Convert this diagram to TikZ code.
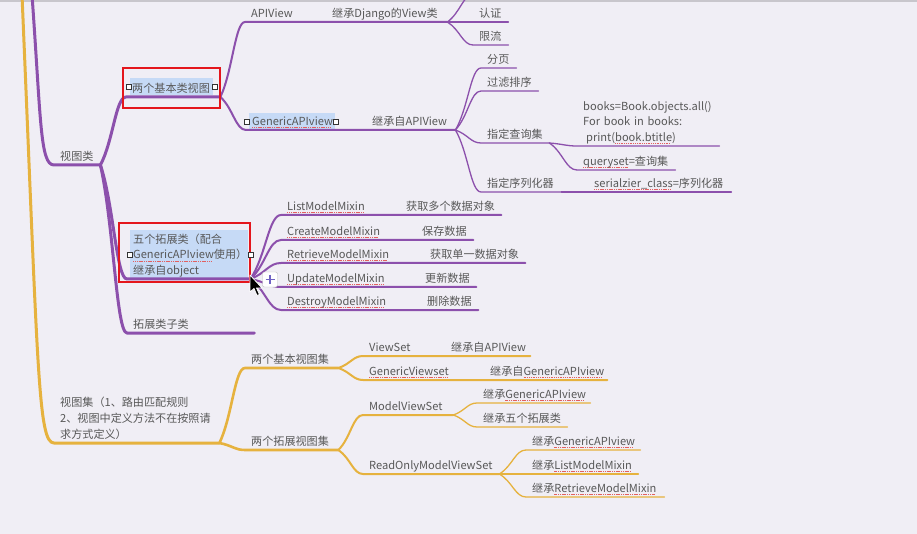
\documentclass[tikz,border=0pt]{standalone}
\usepackage{fontspec}
\setmainfont{Noto Sans CJK SC}
\usetikzlibrary{calc}

\definecolor{bg}{RGB}{240,238,245}
\definecolor{topbar}{RGB}{200,198,204}
\definecolor{purp}{RGB}{140,80,172}
\definecolor{gold}{RGB}{230,178,62}
\definecolor{txt}{RGB}{88,88,88}
\definecolor{hilite}{RGB}{198,218,246}
\definecolor{splred}{RGB}{226,96,96}
\definecolor{frame}{RGB}{228,22,28}
\definecolor{plusc}{RGB}{112,100,196}

\newsavebox\splbox
\newcommand\spl[1]{\sbox\splbox{#1}\leavevmode\rlap{\color{splred}\leaders\hbox{\rule[-2.4pt]{1.1pt}{0.6pt}\kern0.7pt}\hskip\wd\splbox}\usebox\splbox}

\tikzset{
  topic/.style={anchor=south west, inner xsep=6pt, inner ysep=2.5pt, text depth=2pt,
    align=left, text=txt, font=\fontsize{11.1pt}{15.5pt}\selectfont},
  branch/.style={to path={let \p1=(\tikztostart), \p2=(\tikztotarget) in
    .. controls ({\x1+0.5*(\x2-\x1)},{\y1+0.35*(\y2-\y1)})
    and ({\x1+0.6*(\x2-\x1)},\y2) .. (\tikztotarget)}},
  lv1/.style={line width=3pt},
  lv2/.style={line width=2.6pt},
  lv3/.style={line width=2pt},
  lv4/.style={line width=1.3pt},
  grip/.style={draw=black!80, fill=white, inner sep=0pt, minimum size=5pt, line width=0.7pt},
  plusbox/.style={draw=black!25, fill=white, rounded corners=2pt, minimum size=15pt, inner sep=0pt},
}

\begin{document}
\begin{tikzpicture}[x=1pt, y=-1pt]
  \useasboundingbox (0,0) rectangle (917,534);
  \clip (0,0) rectangle (917,534);
  \fill[bg] (0,0) rectangle (917,534);
  \fill[topbar] (0,0) rectangle (917,2.5);

  \fill[hilite] (130,78) rectangle (213,95);
  \fill[hilite] (249,113) rectangle (335,130);
  \fill[hilite] (130,230) rectangle (248,279);

  \coordinate (proot) at (32,-5);
  \coordinate (yroot) at (22,-5);
  \coordinate (hidden) at (474,-6);

  \node[topic, text width=34pt] (shitu) at (54,165) {视图类};
  \node[topic, text width=82pt] (jiben) at (126,97) {两个基本类视图};
  \node[topic, text width=43pt] (apiv) at (245,22) {APIView};
  \node[topic, text width=109pt] (djv) at (326,22) {继承Django的View类};
  \node[topic, text width=23pt] (renz) at (473,22) {认证};
  \node[topic, text width=23pt] (xianl) at (473,45) {限流};
  \node[topic, text width=82pt] (gapi) at (246,130) {\spl{GenericAPIview}};
  \node[topic, text width=77pt] (jcapi) at (366,130) {继承自APIView};
  \node[topic, text width=23pt] (fenye) at (481,68) {分页};
  \node[topic, text width=45pt] (guolv) at (481,91) {过滤排序};
  \node[topic, text width=56pt] (chaxun) at (481,143) {指定查询集};
  \node[topic, text width=68pt] (xulie) at (481,192) {指定序列化器};
  \node[topic, text width=130pt, text depth=33pt] (code) at (577,146)
    {books=Book.objects.all()\\For book in books:\\\hspace*{3pt}print(\spl{book.btitle})};
  \node[topic, text width=86pt] (qset) at (577,170) {\spl{queryset}=查询集};
  \node[topic, text width=131pt] (serial) at (588,192) {\spl{serialzier\_class}=序列化器};
  \node[topic, text width=111pt, text depth=33pt] (wuge) at (127,279)
    {五个拓展类（配合\\\spl{GenericAPIview}使用）\\继承自object};
  \node[topic, text width=79pt] (listm) at (281,215) {\spl{ListModelMixin}};
  \node[topic, text width=89pt] (huoduo) at (400,215) {获取多个数据对象};
  \node[topic, text width=93pt] (createm) at (281,240) {\spl{CreateModelMixin}};
  \node[topic, text width=45pt] (baocun) at (416,240) {保存数据};
  \node[topic, text width=103pt] (retrm) at (281,263) {\spl{RetrieveModelMixin}};
  \node[topic, text width=89pt] (huodan) at (424,263) {获取单一数据对象};
  \node[topic, text width=99pt] (updm) at (281,287) {\spl{UpdateModelMixin}};
  \node[topic, text width=45pt] (gengxin) at (419,287) {更新数据};
  \node[topic, text width=101pt] (destm) at (281,310) {\spl{DestroyModelMixin}};
  \node[topic, text width=45pt] (shanchu) at (421,310) {删除数据};
  \node[topic, text width=115pt] (zilei) at (127,333) {拓展类子类};

  \node[topic, text width=153pt, text depth=34pt, font=\fontsize{11.1pt}{16pt}\selectfont] (shiji) at (54,443)
    {视图集（1、路由匹配规则\\2、视图中定义方法不在按照请\\求方式定义）};
  \node[topic, text width=81pt] (jbset) at (245,368) {两个基本视图集};
  \node[topic, text width=81pt] (tzset) at (245,450) {两个拓展视图集};
  \node[topic, text width=65pt] (vset) at (363,356) {ViewSet};
  \node[topic, text width=73pt] (vsapi) at (445,356) {继承自APIView};
  \node[topic, text width=103pt] (gvset) at (363,380) {\spl{GenericViewset}};
  \node[topic, text width=111pt] (gvapi) at (484,380) {继承自\spl{GenericAPIview}};
  \node[topic, text width=78pt] (mvset) at (363,415) {ModelViewSet};
  \node[topic, text width=101pt] (mvgen) at (477,403) {继承\spl{GenericAPIview}};
  \node[topic, text width=78pt] (mvfive) at (477,427) {继承五个拓展类};
  \node[topic, text width=124pt] (romvs) at (363,474) {ReadOnlyModelViewSet};
  \node[topic, text width=102pt] (rogen) at (526,450) {继承\spl{GenericAPIview}};
  \node[topic, text width=100pt] (rolist) at (526,474) {继承\spl{ListModelMixin}};
  \node[topic, text width=126pt] (roret) at (526,497) {继承\spl{RetrieveModelMixin}};

  \begin{scope}[color=purp, branch, line cap=round, line join=round]
    \draw[lv1] (proot) .. controls (41,120) and (40,165) .. (shitu.south west) -- (shitu.south east);
    \foreach \c in {jiben,wuge,zilei}
      \draw[lv1] (shitu.south east) to (\c.south west) -- (\c.south east);
    \draw[lv3] (jiben.south east) to (apiv.south west) -- (apiv.south east) to (djv.south west) -- (djv.south east);
    \draw[lv3] (jiben.south east) to (gapi.south west) -- (gapi.south east) to (jcapi.south west) -- (jcapi.south east);
    \foreach \c in {renz,xianl}
      \draw[lv4] (djv.south east) to (\c.south west) -- (\c.south east);
    \draw[lv4] (djv.south east) to (hidden) -- ++(36,0);
    \foreach \c in {fenye,guolv,chaxun,xulie}
      \draw[lv4] (jcapi.south east) to (\c.south west) -- (\c.south east);
    \foreach \c in {code,qset}
      \draw[lv4] (chaxun.south east) to (\c.south west) -- (\c.south east);
    \draw[lv4] (xulie.south east) to (serial.south west) -- (serial.south east);
    \foreach \a/\b in {listm/huoduo,createm/baocun,retrm/huodan,updm/gengxin,destm/shanchu}
      \draw[lv3] (wuge.south east) to (\a.south west) -- (\a.south east) to (\b.south west) -- (\b.south east);
  \end{scope}

  \begin{scope}[color=gold, branch, line cap=round, line join=round]
    \draw[lv1] (yroot) .. controls (38,370) and (38,443) .. (shiji.south west) -- (shiji.south east);
    \foreach \c in {jbset,tzset}
      \draw[lv2] (shiji.south east) to (\c.south west) -- (\c.south east);
    \draw[lv3] (jbset.south east) to (vset.south west) -- (vset.south east) to (vsapi.south west) -- (vsapi.south east);
    \draw[lv3] (jbset.south east) to (gvset.south west) -- (gvset.south east) to (gvapi.south west) -- (gvapi.south east);
    \foreach \c in {mvset,romvs}
      \draw[lv3] (tzset.south east) to (\c.south west) -- (\c.south east);
    \foreach \c in {mvgen,mvfive}
      \draw[lv4] (mvset.south east) to (\c.south west) -- (\c.south east);
    \foreach \c in {rogen,rolist,roret}
      \draw[lv4] (romvs.south east) to (\c.south west) -- (\c.south east);
  \end{scope}

  \draw[frame, line width=1.6pt] (123,68) rectangle (220,108);
  \draw[frame, line width=1.6pt] (119,223) rectangle (250,282);
  \foreach \p [count=\i] in {(129,87),(215,87),(247,122),(336,122),(130,255),(251,255)}
    \node[grip] (g\i) at \p {};

  \node[plusbox] (plus) at (270,279.5) {};
  \draw[plusc, line width=1.4pt] ($(plus)+(-4.5,0)$) -- ($(plus)+(4.5,0)$)
    ($(plus)+(0,-4.5)$) -- ($(plus)+(0,4.5)$);
  \draw[fill=black, draw=white, line width=0.8pt, line join=round]
    (250,275) -- ++(0,17) -- ++(4,-3.5) -- ++(3,7) -- ++(2.5,-1) -- ++(-3,-6.5) -- ++(5.5,0) -- cycle;
\end{tikzpicture}
\end{document}
